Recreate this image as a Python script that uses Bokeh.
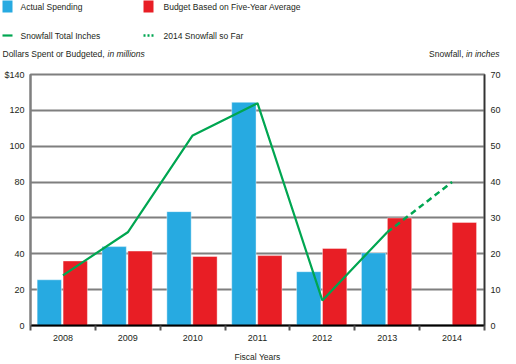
from bokeh.plotting import figure
from bokeh.layouts import column
from bokeh.models import ColumnDataSource, Range1d, LinearAxis, FixedTicker
from bokeh.transform import dodge
from bokeh.core.properties import value
from bokeh.embed import file_html
from bokeh.resources import INLINE

# ---- data ----
years = [2008, 2009, 2010, 2011, 2012, 2013, 2014]
actual_years = [2008, 2009, 2010, 2011, 2012, 2013]
actual_spending = [25.5, 44, 63.5, 124.5, 30, 40.5]
budget_five_year_avg = [36, 41.5, 38.5, 39, 43, 60, 57.5]
snow_years = [2008, 2009, 2010, 2011, 2012, 2013]
snow_total = [14, 26, 53, 62, 7, 26]
snow_sofar_years = [2013, 2014]
snow_sofar = [26, 40]
left_ticks = [0, 20, 40, 60, 80, 100, 120, 140]
right_ticks = [0, 10, 20, 30, 40, 50, 60, 70]
boundaries = [2007.5, 2008.5, 2009.5, 2010.5, 2011.5, 2012.5, 2013.5, 2014.5]
legend_labels = ["Actual Spending", "Budget Based on Five-Year Average",
                 "Snowfall Total Inches", "2014 Snowfall so Far"]

BLUE = "#27AAE1"
RED = "#E81E25"
GREEN = "#00A651"
GRID = "#7f7f7f"
TXT = "#231f20"
FONT = "Liberation Sans"
H = 62
FL, FR = 30, 484   # frame left / right on the canvas

# ---- header (legend + axis titles) ----
hdr = figure(width=516, height=H, x_range=Range1d(FL, FR), y_range=Range1d(H, 0),
             output_backend="svg", toolbar_location=None, x_axis_type=None, y_axis_type=None,
             min_border_left=FL, min_border_right=516 - FR, min_border_top=0,
             min_border_bottom=0)
hdr.outline_line_color = None
hdr.grid.visible = False
ov = dict(level="overlay")
hdr.quad(left=[2], right=[12], top=[0], bottom=[12], fill_color=BLUE, line_color=None, **ov)
hdr.quad(left=[143], right=[153], top=[0], bottom=[12], fill_color=RED, line_color=None, **ov)
hdr.line([2, 12], [35, 35], line_color=GREEN, line_width=2.2, **ov)
hdr.line([143, 154], [35, 35], line_color=GREEN, line_width=2.5, line_dash="2 2", **ov)
tkw = dict(text_font=value(FONT), text_font_size="8.5px", text_color=TXT,
           text_baseline="middle", level="overlay")
hdr.text(x=[20, 163, 20, 163], y=[6, 6, 35, 35], text=legend_labels, **tkw)
hdr.text(x=[2], y=[53], text=["Dollars Spent or Budgeted,"], **tkw)
hdr.text(x=[107], y=[53], text=["in millions"], text_font_style="italic", **tkw)
hdr.text(x=[463], y=[53], text=["Snowfall,"], text_align="right", **tkw)
hdr.text(x=[499], y=[53], text=["in inches"], text_font_style="italic", text_align="right", **tkw)

# ---- main chart ----
p = figure(width=516, height=364 - H, x_range=Range1d(2007.5, 2014.5), y_range=Range1d(0, 140),
           output_backend="svg", toolbar_location=None,
           min_border_left=FL, min_border_right=516 - FR, min_border_top=74 - H,
           min_border_bottom=38)
p.extra_y_ranges = {"snow": Range1d(0, 70)}
p.outline_line_color = GRID
p.outline_line_width = 2

src_a = ColumnDataSource(dict(x=actual_years, top=actual_spending))
src_b = ColumnDataSource(dict(x=years, top=budget_five_year_avg))
p.vbar(x=dodge("x", -0.21, range=p.x_range), top="top", width=0.375, source=src_a,
       fill_color=BLUE, line_color="white", line_alpha=0.4, line_width=1)
p.vbar(x=dodge("x", 0.19, range=p.x_range), top="top", width=0.375, source=src_b,
       fill_color=RED, line_color="white", line_alpha=0.4, line_width=1)

p.line(snow_years, snow_total, y_range_name="snow", line_color=GREEN, line_width=2.2)
p.line(snow_sofar_years, snow_sofar, y_range_name="snow", line_color=GREEN,
       line_width=2.5, line_dash="6 4")

p.xgrid.visible = False
p.ygrid.ticker = FixedTicker(ticks=left_ticks)
p.ygrid.grid_line_color = GRID
p.ygrid.grid_line_width = 2

xa = p.xaxis[0]
xa.ticker = FixedTicker(ticks=years, minor_ticks=boundaries)
xa.major_label_overrides = {y: str(y) for y in years}
xa.axis_line_color = "black"
xa.axis_line_width = 2
xa.major_tick_out = 0
xa.major_tick_in = 0
xa.minor_tick_out = 5
xa.minor_tick_in = 0
xa.minor_tick_line_color = "#555555"
xa.minor_tick_line_width = 2
xa.major_label_text_font = FONT
xa.major_label_text_font_size = "9px"
xa.major_label_text_color = TXT
xa.major_label_standoff = 4
xa.axis_label = "Fiscal Years"
xa.axis_label_text_font = FONT
xa.axis_label_text_font_size = "8.5px"
xa.axis_label_text_font_style = "normal"
xa.axis_label_text_color = TXT
xa.axis_label_standoff = 8

ya = p.yaxis[0]
ya.ticker = FixedTicker(ticks=left_ticks)
ya.major_label_overrides = {t: ("$" + str(t) if t == 140 else str(t)) for t in left_ticks}
ya.axis_line_color = GRID
ya.axis_line_width = 2
ya.major_tick_out = 0
ya.major_tick_in = 0
ya.minor_tick_line_color = None
ya.major_label_text_font = FONT
ya.major_label_text_font_size = "9px"
ya.major_label_text_color = TXT
ya.major_label_standoff = 6

ra = LinearAxis(y_range_name="snow", ticker=FixedTicker(ticks=right_ticks))
ra.axis_line_color = "#333333"
ra.axis_line_width = 1.5
ra.major_tick_out = 0
ra.major_tick_in = 0
ra.minor_tick_line_color = None
ra.major_label_text_font = FONT
ra.major_label_text_font_size = "9px"
ra.major_label_text_color = TXT
ra.major_label_standoff = 6
p.add_layout(ra, "right")

layout = column(hdr, p, spacing=0)
open("out.html", "w").write(file_html(layout, INLINE))
